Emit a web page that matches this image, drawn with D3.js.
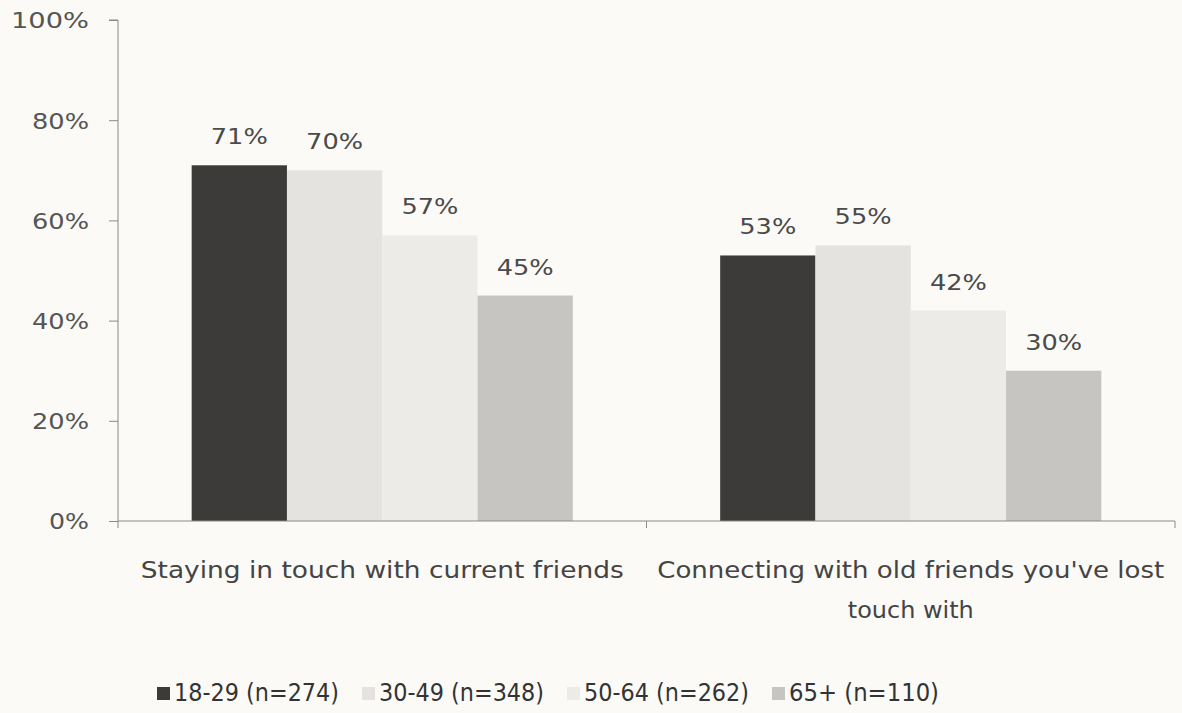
<!DOCTYPE html>
<html><head><meta charset="utf-8">
<script src="https://cdn.jsdelivr.net/npm/d3@7"></script>
<style>
html,body{margin:0;padding:0;background:#fbfaf6;}
svg{display:block;}
text{font-family:"DejaVu Sans","Open Sans",sans-serif;}
</style></head>
<body>
<svg id="chart" width="1182" height="713"></svg>
<script>
const categories = ["Staying in touch with current friends", "Connecting with old friends you've lost touch with"];
const categoryLines = [["Staying in touch with current friends"], ["Connecting with old friends you've lost", "touch with"]];
const seriesNames = ["18-29 (n=274)", "30-49 (n=348)", "50-64 (n=262)", "65+ (n=110)"];
const series1829 = [71, 53];
const series3049 = [70, 55];
const series5064 = [57, 42];
const series65 = [45, 30];
const yTicks = [0, 20, 40, 60, 80, 100];
const colors = ["#3c3b39", "#e4e3e0", "#ecebe8", "#c6c5c2"];

(function () {
const allSeries = [series1829, series3049, series5064, series65];
const svg = d3.select("#chart");
const mLeft = 118, mRight = 1175, mTop = 20, mBottom = 521;
const ff = "'DejaVu Sans','Open Sans',sans-serif";

const x0 = d3.scaleBand().domain(categories).range([mLeft, mRight]).paddingInner(0).paddingOuter(0);
const x1 = d3.scaleBand().domain(seriesNames).range([0, x0.bandwidth()]).paddingInner(0).paddingOuter(0.773);
const y = d3.scaleLinear().domain([0, 100]).range([mBottom, mTop]);

// bars
categories.forEach((c, ci) => {
  const g = svg.append("g").attr("transform", `translate(${x0(c)},0)`);
  seriesNames.forEach((s, si) => {
    const v = allSeries[si][ci];
    g.append("rect")
      .attr("x", x1(s)).attr("y", y(v))
      .attr("width", x1.bandwidth()).attr("height", y(0) - y(v))
      .attr("fill", colors[si]);
    g.append("text")
      .attr("x", x1(s) + x1.bandwidth() / 2).attr("y", y(v) - 21)
      .attr("text-anchor", "middle").attr("font-size", 22).attr("fill", "#4a4a4a")
      .attr("textLength", 57).attr("lengthAdjust", "spacingAndGlyphs")
      .text(v + "%");
  });
});

// y axis
const yAxis = d3.axisLeft(y).tickValues(yTicks).tickSize(9).tickFormat(d => d + "%");
const ya = svg.append("g").attr("transform", `translate(${mLeft},0)`).call(yAxis);
ya.select(".domain").attr("stroke", "#8a8a8a").attr("d", `M-9,${mTop}H0V${mBottom}`);
ya.selectAll(".tick line").attr("stroke", "#8a8a8a");
ya.selectAll(".tick text").attr("x", -29).attr("dy", "0.36em").attr("font-size", 22).attr("fill", "#555")
  .attr("font-family", ff)
  .attr("textLength", d => d === 100 ? 78 : (d === 0 ? 40 : 57)).attr("lengthAdjust", "spacingAndGlyphs");

// x axis
const xAxis = d3.axisBottom(x0).tickSize(0).tickFormat("");
const xa = svg.append("g").attr("transform", `translate(0,${mBottom})`).call(xAxis);
xa.select(".domain").attr("stroke", "#8a8a8a").attr("d", `M${mLeft},0H${mRight}`);
const boundaries = [mLeft, x0(categories[1]), mRight];
xa.selectAll(".bnd").data(boundaries).enter().append("line")
  .attr("x1", d => d).attr("x2", d => d).attr("y1", 0).attr("y2", 7).attr("stroke", "#8a8a8a");

// category labels
const lineLengths = [[483], [507, 126]];
categories.forEach((c, ci) => {
  const cx = x0(c) + x0.bandwidth() / 2;
  categoryLines[ci].forEach((line, li) => {
    svg.append("text").attr("text-anchor", "middle").attr("font-size", 23).attr("fill", "#444")
      .attr("x", cx).attr("y", 578 + li * 40)
      .attr("textLength", lineLengths[ci][li]).attr("lengthAdjust", "spacingAndGlyphs")
      .text(line);
  });
});

// legend
const legendX = [157, 362, 567, 772];
const legendLen = [165, 165, 165, 150];
seriesNames.forEach((s, si) => {
  svg.append("rect").attr("x", legendX[si]).attr("y", 687).attr("width", 13).attr("height", 13)
    .attr("fill", colors[si]);
  svg.append("text").attr("x", legendX[si] + 17).attr("y", 701).attr("font-size", 24)
    .attr("fill", "#333").attr("textLength", legendLen[si]).attr("lengthAdjust", "spacingAndGlyphs")
    .text(s);
});
})();
</script>
</body></html>
